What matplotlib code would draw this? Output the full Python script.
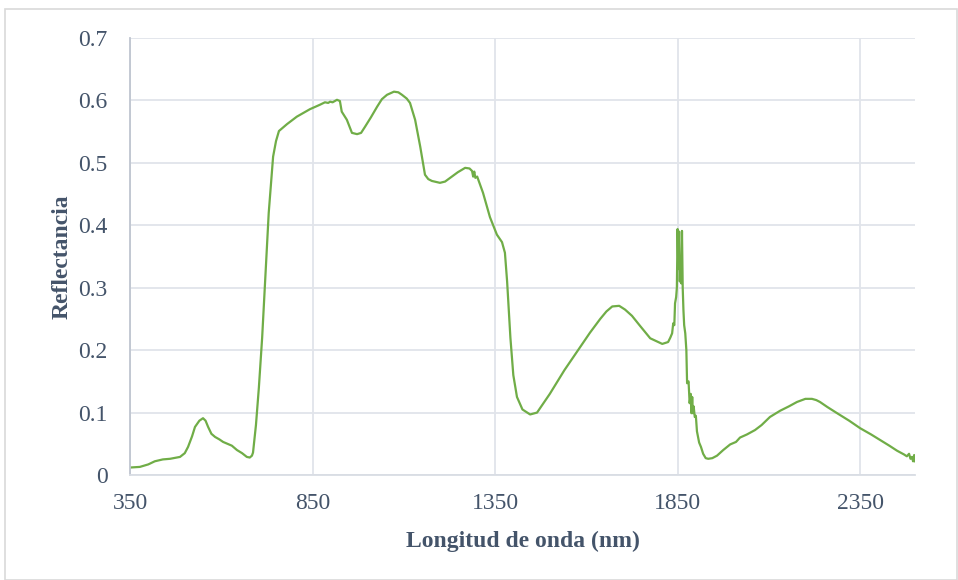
import numpy as np
import matplotlib.pyplot as plt
from matplotlib.patches import Rectangle

# (longitud de onda nm, reflectancia)
puntos = [
    (350, 0.012), (377, 0.013), (400, 0.017), (418, 0.022), (440, 0.025),
    (460, 0.026), (487, 0.029), (500, 0.035), (509, 0.045), (520, 0.062),
    (528, 0.077), (540, 0.087), (550, 0.091), (557, 0.087), (564, 0.077),
    (573, 0.066), (583, 0.061), (595, 0.057), (605, 0.053), (617, 0.050),
    (629, 0.047), (643, 0.040), (657, 0.035), (670, 0.029), (678, 0.028),
    (684, 0.031), (687, 0.036), (695, 0.080), (703, 0.140), (712, 0.220),
    (720, 0.310), (730, 0.420), (742, 0.510), (750, 0.535), (758, 0.551),
    (780, 0.562), (807, 0.574), (843, 0.586), (870, 0.593), (884, 0.597),
    (893, 0.596), (898, 0.598), (905, 0.597), (917, 0.601), (925, 0.599),
    (930, 0.582), (944, 0.569), (958, 0.548), (972, 0.546), (983, 0.548),
    (994, 0.558), (1010, 0.573), (1027, 0.590), (1040, 0.602), (1054, 0.609),
    (1073, 0.614), (1085, 0.613), (1095, 0.609), (1108, 0.603), (1117, 0.596),
    (1131, 0.569), (1145, 0.526), (1158, 0.481), (1167, 0.474), (1177, 0.471),
    (1199, 0.468), (1213, 0.470), (1227, 0.476), (1248, 0.485), (1268, 0.492),
    (1280, 0.491), (1287, 0.487), (1290, 0.478), (1293, 0.486), (1296, 0.476),
    (1301, 0.478), (1317, 0.452), (1336, 0.413), (1355, 0.385), (1369, 0.373),
    (1377, 0.356), (1383, 0.310), (1392, 0.220), (1400, 0.160), (1410, 0.125),
    (1425, 0.105), (1446, 0.097), (1465, 0.100), (1500, 0.130), (1540, 0.168),
    (1583, 0.205), (1610, 0.228), (1638, 0.250), (1655, 0.262), (1671, 0.270),
    (1690, 0.271), (1706, 0.265), (1725, 0.255), (1747, 0.239), (1775, 0.219),
    (1808, 0.210), (1824, 0.213), (1830, 0.220), (1835, 0.227), (1838, 0.243),
    (1841, 0.240), (1843, 0.275), (1846, 0.285), (1848, 0.300), (1850, 0.394),
    (1852, 0.330), (1854, 0.390), (1856, 0.310), (1858, 0.340), (1860, 0.307),
    (1862, 0.391), (1864, 0.300), (1866, 0.264), (1868, 0.240), (1871, 0.227),
    (1874, 0.200), (1876, 0.147), (1880, 0.150), (1883, 0.115), (1886, 0.130),
    (1888, 0.099), (1890, 0.125), (1892, 0.099), (1894, 0.110), (1897, 0.093),
    (1900, 0.095), (1903, 0.070), (1906, 0.061), (1909, 0.052), (1914, 0.045),
    (1920, 0.034), (1927, 0.027), (1934, 0.026), (1945, 0.027), (1958, 0.031),
    (1975, 0.040), (1994, 0.049), (2010, 0.053), (2021, 0.060), (2040, 0.065),
    (2062, 0.072), (2080, 0.080), (2103, 0.093), (2131, 0.103), (2155, 0.110),
    (2177, 0.117), (2200, 0.122), (2218, 0.122), (2230, 0.120), (2240, 0.117),
    (2260, 0.109), (2287, 0.099), (2320, 0.087), (2350, 0.075), (2380, 0.065),
    (2405, 0.056), (2430, 0.047), (2451, 0.039), (2470, 0.033), (2478, 0.030),
    (2484, 0.034), (2488, 0.026), (2492, 0.029), (2495, 0.022), (2498, 0.032),
    (2500, 0.022),
]
wl = [p[0] for p in puntos]
refl = [p[1] for p in puntos]

xticks = [350, 850, 1350, 1850, 2350]
yticks = [0, 0.1, 0.2, 0.3, 0.4, 0.5, 0.6, 0.7]
ylabels = ['0', '0.1', '0.2', '0.3', '0.4', '0.5', '0.6', '0.7']

plt.rcParams['font.family'] = ['Liberation Serif', 'DejaVu Serif']

fig = plt.figure(figsize=(9.58, 5.8), dpi=100)
ax = fig.add_axes([0.1357, 0.181, 0.955 - 0.1357, 0.9345 - 0.181])

ax.plot(wl, refl, color='#70AD47', lw=1.6)

ax.set_xlim(350, 2500)
ax.set_ylim(0, 0.7)
ax.set_xticks(xticks)
ax.set_yticks(yticks)
ax.set_yticklabels(ylabels)
ax.grid(True, color='#E1E4EA', lw=1.3)
ax.set_axisbelow(True)
ax.tick_params(length=0, labelsize=17, colors='#44546A')
ax.tick_params(axis='y', pad=16)
ax.tick_params(axis='x', pad=13)
for s in ['top', 'right']:
    ax.spines[s].set_visible(False)
ax.spines['left'].set_color('#BFC5D0')
ax.spines['bottom'].set_color('#D9DDE4')
ax.spines['left'].set_linewidth(1.3)
ax.spines['bottom'].set_linewidth(1.3)

ax.set_xlabel('Longitud de onda (nm)', fontsize=17, fontweight='bold',
              color='#44546A', labelpad=12)
ax.set_ylabel('Reflectancia', fontsize=17, fontweight='bold',
              color='#44546A', labelpad=4)

fig.patches.append(Rectangle((0.005, 0.0), 0.994, 0.985, transform=fig.transFigure,
                             fill=False, edgecolor='#D9D9D9', lw=1.2))

plt.savefig('out.png', dpi=100)
